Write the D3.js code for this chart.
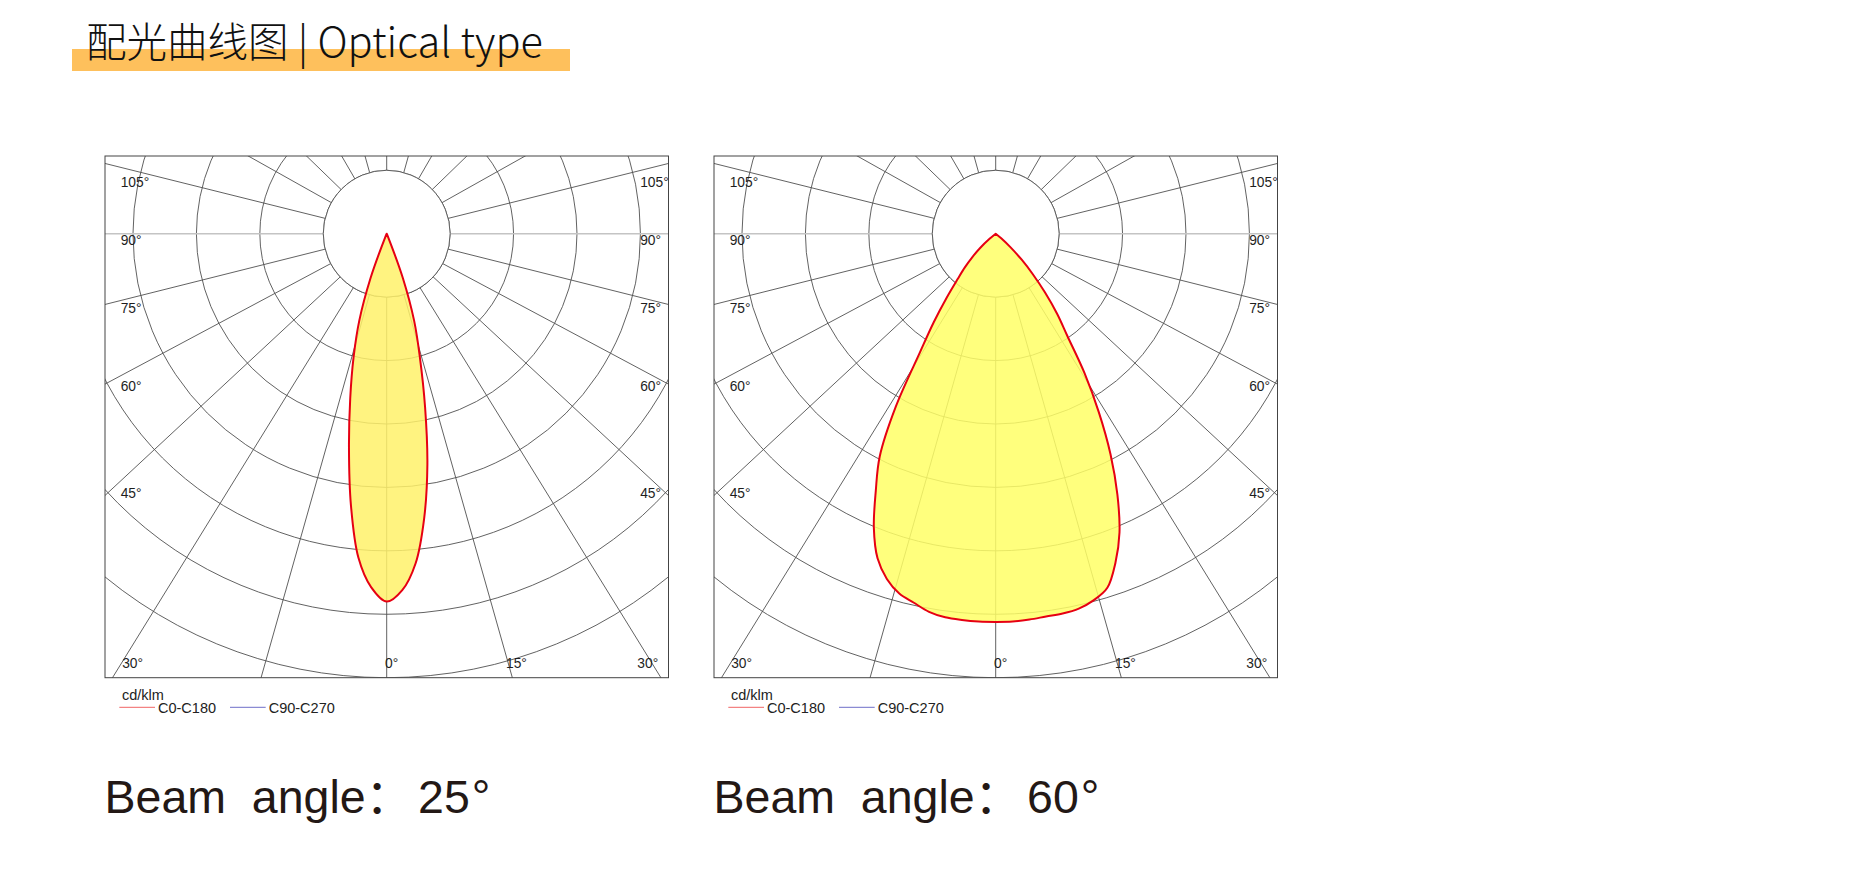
<!DOCTYPE html>
<html><head><meta charset="utf-8">
<script src="https://cdn.jsdelivr.net/npm/d3@7"></script>
<style>body{margin:0;background:#fff;} svg{display:block;}</style>
</head><body>
<svg id="c" width="1875" height="874"></svg>
<script>
// ---------------- data ----------------
const titleCN = "配光曲线图";
const titleEN = "Optical type";
const beamLabel = "Beam  angle：";
const beamValues = [25, 60];
const legendUnit = "cd/klm";
const legendSeries = ["C0-C180", "C90-C270"];

// gamma angles (deg from nadir)
const gammaAngles = [0, 2.5, 5, 7.5, 10, 12.5, 15, 17.5, 20, 22.5, 25, 27.5, 30, 32.5, 35, 37.5, 40, 42.5, 45, 47.5, 50, 52.5, 55, 57.5, 60];

// 25° beam, cd/klm
const beam25_C0   = [4640, 4500, 4175, 3620, 2955, 2235, 1620, 1150, 595, 50, 0, 0, 0, 0, 0, 0, 0, 0, 0, 0, 0, 0, 0, 0, 0];
const beam25_C180 = [4640, 4465, 4100, 3455, 2740, 2125, 1615, 1150, 595, 50, 0, 0, 0, 0, 0, 0, 0, 0, 0, 0, 0, 0, 0, 0, 0];
const rings25 = [800, 1600, 2400, 3200, 4000, 4800, 5600];

// 60° beam, cd/klm
const beam60_C0   = [918, 918, 916, 913, 912, 908, 897, 878, 828, 765, 681, 588, 488, 391, 296, 238, 181, 130, 87, 47, 17, 0, 0, 0, 0];
const beam60_C180 = [918, 918, 917, 915, 908, 894, 881, 856, 817, 753, 671, 594, 473, 335, 255, 190, 140, 108, 78, 50, 19, 0, 0, 0, 0];
const rings60 = [150, 300, 450, 600, 750, 900, 1050];

// polar grid line angles (deg from nadir, as drawn) and labels
const gridAngles = [0, 15.8, 31.7, 47.1, 61.9, 75.9, 90, 104, 119.3, 134.1, 149.9, 164.4, 180];
const sideLabels = [105, 90, 75, 60, 45];
const bottomLabels = [-30, 0, 15, 30];

// ---------------- drawing ----------------
const svg = d3.select("#c");
const rad = d => d * Math.PI / 180;

// title
svg.append("rect").attr("x", 72).attr("y", 49).attr("width", 498).attr("height", 22).attr("fill", "#fec05c");
const tt = svg.append("text").attr("x", 86).attr("y", 56.5)
  .attr("font-family", "'Noto Sans CJK SC', 'Noto Sans', sans-serif").attr("font-weight", 300)
  .attr("fill", "#111").style("white-space", "pre");
tt.append("tspan").attr("font-size", 40.5).text(titleCN);
tt.append("tspan").attr("font-size", 41.5).text(" | " + titleEN);

const panels = [
  {x0: 105, c0: beam25_C0, c180: beam25_C180, rings: rings25, fill: "#fff16a", beam: beamValues[0]},
  {x0: 714, c0: beam60_C0, c180: beam60_C180, rings: rings60, fill: "#ffff66", beam: beamValues[1]}
];
const y0 = 156, bw = 563.5, bh = 521.7;
const gridCol = "#505050";

panels.forEach((p, pi) => {
  const cx = p.x0 + 281.7, cy = y0 + 77.7;
  const ringPx = (bh - 77.7) / p.rings.length;
  const rScale = d3.scaleLinear().domain([0, p.rings[p.rings.length - 1]]).range([0, ringPx * p.rings.length]);
  const g = svg.append("g");
  const clipId = "clip" + pi;
  svg.append("clipPath").attr("id", clipId).append("rect")
    .attr("x", p.x0).attr("y", y0).attr("width", bw).attr("height", bh);
  const grid = g.append("g").attr("clip-path", `url(#${clipId})`);

  // rings
  grid.selectAll("circle.ring").data(p.rings).join("circle")
    .attr("cx", cx).attr("cy", cy).attr("r", d => rScale(d))
    .attr("fill", "none").attr("stroke", gridCol).attr("stroke-width", 0.9);

  // radial lines (both sides)
  const angs = [];
  gridAngles.forEach(a => { angs.push(a); if (a !== 0 && a !== 180) angs.push(-a); });
  grid.selectAll("line.rad").data(angs).join("line")
    .attr("x1", cx).attr("y1", cy)
    .attr("x2", a => cx + 900 * Math.sin(rad(a)))
    .attr("y2", a => cy + 900 * Math.cos(rad(a)))
    .attr("stroke", a => Math.abs(a) === 90 ? "#c4c4c4" : gridCol)
    .attr("stroke-width", a => Math.abs(a) === 90 ? 1.6 : 0.9);

  // inner disk
  grid.append("circle").attr("cx", cx).attr("cy", cy).attr("r", rScale(p.rings[0]))
    .attr("fill", "#fff").attr("stroke", gridCol).attr("stroke-width", 0.9);

  // curve
  const lastNZ = arr => { let k = 0; arr.forEach((v, i) => { if (v > 0) k = i; }); return k; };
  const l0 = lastNZ(p.c0), l1 = lastNZ(p.c180);
  const pts = [];
  pts.push([Math.PI - rad(gammaAngles[l0 + 1]), 0]);
  for (let i = l0; i >= 0; i--) pts.push([Math.PI - rad(gammaAngles[i]), rScale(p.c0[i])]);
  for (let i = 1; i <= l1; i++) pts.push([Math.PI + rad(gammaAngles[i]), rScale(p.c180[i])]);
  pts.push([Math.PI + rad(gammaAngles[l1 + 1]), 0]);
  const lr = d3.lineRadial().angle(d => d[0]).radius(d => d[1]).curve(d3.curveCatmullRom.alpha(0.5));
  g.append("path").attr("transform", `translate(${cx},${cy})`)
    .attr("d", lr(pts) + "Z")
    .attr("fill", p.fill).attr("fill-opacity", 0.85)
    .attr("stroke", "#e60012").attr("stroke-width", 2).attr("stroke-linejoin", "round");

  // frame
  g.append("rect").attr("x", p.x0).attr("y", y0).attr("width", bw).attr("height", bh)
    .attr("fill", "none").attr("stroke", "#444").attr("stroke-width", 1);

  // labels
  const lab = g.append("g").attr("font-family", "'Liberation Sans', Arial, sans-serif")
    .attr("font-size", 13.8).attr("fill", "#1e1e1e");
  const sideY = a => Math.max(cy + 253 / Math.tan(rad(a)) + 11.3, y0 + 31.3);
  lab.selectAll("text.l").data(sideLabels).join("text")
    .attr("x", p.x0 + 15.7).attr("y", a => sideY(a)).text(a => a + "°");
  lab.selectAll("text.r").data(sideLabels).join("text")
    .attr("x", p.x0 + bw - 28.3).attr("y", a => sideY(a)).text(a => a + "°");
  const by = y0 + bh - 9.4;
  const dyB = by - 10 - cy;
  lab.selectAll("text.b").data(bottomLabels).join("text")
    .attr("y", by)
    .attr("x", a => a > 0 ? cx + dyB * Math.tan(rad(a)) + 5.5 : a < 0 ? cx - dyB * Math.tan(rad(-a)) + 1.5 : cx - 1.7)
    .attr("text-anchor", a => a < 0 ? "end" : "start")
    .text(a => Math.abs(a) + "°");

  // legend
  const lg = g.append("g").attr("font-family", "'Liberation Sans', Arial, sans-serif")
    .attr("font-size", 14.5).attr("fill", "#222");
  const yb = y0 + bh;
  lg.append("text").attr("x", p.x0 + 17).attr("y", yb + 22.3).text(legendUnit);
  const legCols = ["#f06464", "#6e6ec8"];
  const legX = [14.3, 125];
  legendSeries.forEach((s, i) => {
    lg.append("line").attr("x1", p.x0 + legX[i]).attr("x2", p.x0 + legX[i] + 35.7)
      .attr("y1", yb + 29.6).attr("y2", yb + 29.6).attr("stroke", legCols[i]).attr("stroke-width", 1);
    lg.append("text").attr("x", p.x0 + legX[i] + 38.7).attr("y", yb + 35.6).text(s);
  });

  // beam title
  const bt = g.append("text").attr("x", p.x0 - 0.5).attr("y", 813.3)
    .attr("font-family", "'Liberation Sans', Arial, 'Noto Sans CJK SC', sans-serif")
    .attr("font-size", 46.5).attr("fill", "#231815").style("white-space", "pre");
  bt.append("tspan").text(beamLabel);
  bt.append("tspan").attr("dx", 6).text(p.beam);
  bt.append("tspan").attr("dx", 2).text("°");
});
</script>
</body></html>
